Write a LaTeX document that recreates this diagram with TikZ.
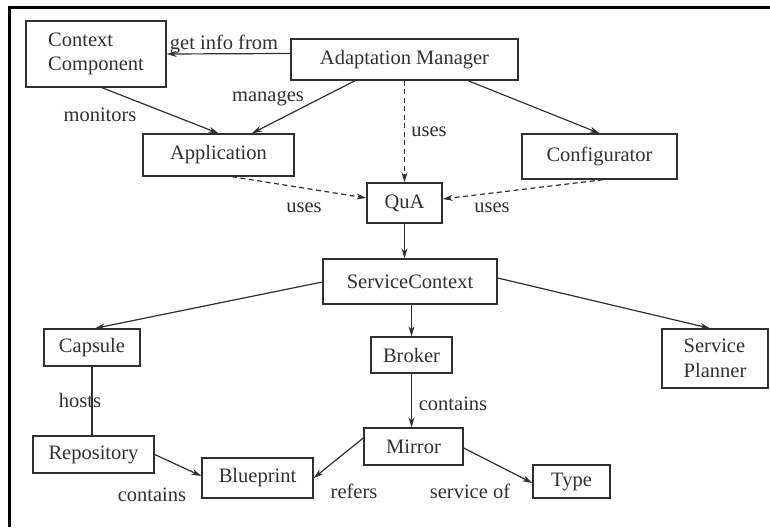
\documentclass[tikz,border=0pt]{standalone}
\usepackage{fontspec}
\setmainfont{Liberation Serif}
\usetikzlibrary{arrows.meta}
\definecolor{ink}{HTML}{303030}
\tikzset{
  box/.style={draw=ink, line width=1.4pt, inner sep=0pt, text=ink, align=center},
  lbl/.style={inner sep=0pt, text=ink},
  arr/.style={draw=ink, line width=1.2pt, -{Stealth[length=10pt,width=6pt]}},
  darr/.style={arr, dash pattern=on 5pt off 3.5pt},
  pln/.style={draw=ink, line width=1.2pt},
}
\begin{document}
\begin{tikzpicture}[x=1pt,y=-1pt,font=\fontsize{20.5}{24.5}\selectfont]
\useasboundingbox (0,0) rectangle (770,527);
\draw[line width=3pt] (8,7.5) -- (770,7.5);
\draw[line width=3pt] (9.5,6) -- (9.5,527);

\node[box, minimum width=140pt, minimum height=66pt, align=left] (cc) at (96,54) {Context\\Component};
\node[box, minimum width=227pt, minimum height=41pt] (am) at (404.5,59.5) {Adaptation Manager};
\node[box, minimum width=151pt, minimum height=42pt] (app) at (218.5,155) {Application};
\node[box, minimum width=155pt, minimum height=45pt] (conf) at (599.5,156.5) {Configurator};
\node[box, minimum width=75pt, minimum height=40pt] (qua) at (404.5,203) {QuA};
\node[box, minimum width=174pt, minimum height=45pt] (sc) at (410,281.5) {ServiceContext};
\node[box, minimum width=96pt, minimum height=37pt] (cap) at (92,347.5) {Capsule};
\node[box, minimum width=81pt, minimum height=36pt] (brk) at (411.5,355) {Broker};
\node[box, minimum width=106pt, minimum height=59pt, align=left] (sp) at (715,358.5) {Service\\Planner};
\node[box, minimum width=121pt, minimum height=37pt] (rep) at (93.5,454.5) {Repository};
\node[box, minimum width=111pt, minimum height=40pt] (bp) at (257.5,478) {Blueprint};
\node[box, minimum width=99pt, minimum height=37pt] (mir) at (413.5,446.5) {Mirror};
\node[box, minimum width=77pt, minimum height=33pt] (typ) at (571.5,481.5) {Type};

\draw[arr] ([yshift=6pt]am.west) -- ([yshift=0pt]cc.east);
\draw[arr] ([xshift=6pt]cc.south) -- (app.north);
\draw[arr] ([xshift=-49.5pt]am.south) -- ([xshift=33.5pt]app.north);
\draw[darr] (am.south) -- (qua.north);
\draw[arr] ([xshift=63.5pt]am.south) -- (conf.north);
\draw[darr] ([xshift=13.5pt]app.south) -- ([yshift=5pt]qua.west);
\draw[darr] ([xshift=3.5pt]conf.south) -- ([yshift=4pt]qua.east);
\draw[arr] (qua.south) -- (qua.south |- sc.north);
\draw[arr] ([yshift=-0.5pt]sc.west) -- ([xshift=3pt]cap.north);
\draw[arr] (brk.north |- sc.south) -- (brk.north);
\draw[arr] ([yshift=3.5pt]sc.east) -- ([xshift=-5pt]sp.north);
\draw[pln] (cap.south) -- (cap.south |- rep.north);
\draw[arr] (rep.east) -- ([yshift=2pt]bp.west);
\draw[arr] ([yshift=8.5pt]mir.west) -- (bp.east);
\draw[arr] (brk.south) -- (brk.south |- mir.north);
\draw[arr] ([yshift=-1.5pt]mir.east) -- ([yshift=-1.5pt]typ.west);

\node[lbl] (l1) at (224,44) {get info from};
\node[lbl] (l2) at (100,115) {monitors};
\node[lbl] (l3) at (268,98) {manages};
\node[lbl] (l4) at (429,132) {uses};
\node[lbl] (l5) at (304,208) {uses};
\node[lbl] (l6) at (492,208) {uses};
\node[lbl] (l7) at (80,400) {hosts};
\node[lbl] (l8) at (152,495) {contains};
\node[lbl] (l9) at (354,491) {refers};
\node[lbl] (l10) at (453,404) {contains};
\node[lbl] (l11) at (470,491) {service of};
\end{tikzpicture}
\end{document}
